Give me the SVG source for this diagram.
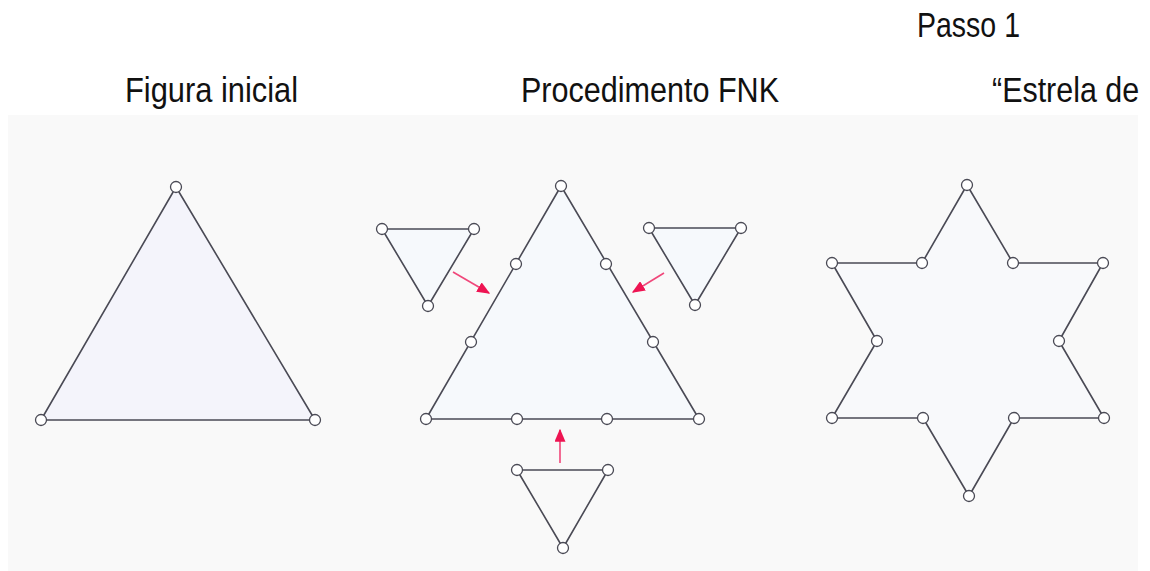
<svg xmlns="http://www.w3.org/2000/svg" width="1150" height="571" viewBox="0 0 1150 571">
<style>
.t{font-family:"Liberation Sans Narrow","Liberation Sans",Arial,sans-serif;font-size:35px;fill:#111}
.sh{stroke:#4a4a55;stroke-width:1.6;stroke-linejoin:round}
.v{fill:#fff;stroke:#4a4a55;stroke-width:1.3}
.ar{stroke:#f0477a;stroke-width:1.6;fill:none}
</style>
<defs>
<marker id="ah" viewBox="0 0 10 10" refX="9" refY="5" markerWidth="13" markerHeight="11" orient="auto" markerUnits="userSpaceOnUse" preserveAspectRatio="none">
<path d="M0,0 L10,5 L0,10 Z" fill="#ee1452"/>
</marker>
</defs>
<rect width="1150" height="571" fill="#fff"/>
<rect x="8" y="115" width="1130" height="456" fill="#f9f9f9"/>
<text class="t" x="917" y="37" textLength="103" lengthAdjust="spacingAndGlyphs">Passo 1</text>
<text class="t" x="125" y="102" textLength="173" lengthAdjust="spacingAndGlyphs">Figura inicial</text>
<text class="t" x="521" y="102" textLength="258" lengthAdjust="spacingAndGlyphs">Procedimento FNK</text>
<text class="t" transform="translate(992,102) scale(0.87,1)" x="0" y="0">“Estrela de</text>
<g id="initial">
<polygon class="sh" points="176,187 41,420 315,420" fill="#f4f4fb"/>
<circle class="v" cx="176" cy="187" r="5.5"/><circle class="v" cx="41" cy="420" r="5.5"/><circle class="v" cx="315" cy="420" r="5.5"/>
</g>
<g id="fnk-main">
<polygon class="sh" points="561,186 426,419 699,419" fill="#f6f9fc"/>
<circle class="v" cx="561" cy="186" r="5.5"/><circle class="v" cx="426" cy="419" r="5.5"/><circle class="v" cx="699" cy="419" r="5.5"/>
<circle class="v" cx="516" cy="264" r="5.5"/><circle class="v" cx="471" cy="342" r="5.5"/>
<circle class="v" cx="606" cy="264" r="5.5"/><circle class="v" cx="653" cy="342" r="5.5"/>
<circle class="v" cx="517" cy="419" r="5.5"/><circle class="v" cx="607" cy="419" r="5.5"/>
</g>
<g id="tri-left">
<polygon class="sh" points="382,229 474,229 428,306" fill="#f6f9fc"/>
<circle class="v" cx="382" cy="229" r="5.5"/><circle class="v" cx="474" cy="229" r="5.5"/><circle class="v" cx="428" cy="306" r="5.5"/>
</g>
<g id="tri-right">
<polygon class="sh" points="649,228 741,228 695,305" fill="#f6f9fc"/>
<circle class="v" cx="649" cy="228" r="5.5"/><circle class="v" cx="741" cy="228" r="5.5"/><circle class="v" cx="695" cy="305" r="5.5"/>
</g>
<g id="tri-bottom">
<polygon class="sh" points="517,470 608,470 563,548" fill="#f9f9f9"/>
<circle class="v" cx="517" cy="470" r="5.5"/><circle class="v" cx="608" cy="470" r="5.5"/><circle class="v" cx="563" cy="548" r="5.5"/>
</g>
<g id="star">
<polygon class="sh" points="967,185 1013,263 1103,263 1059,341 1104,418 1014,418 969,496 923,418 832,418 877,341 832,263 922,263" fill="#f8f9fb"/>
<circle class="v" cx="967" cy="185" r="5.5"/><circle class="v" cx="1013" cy="263" r="5.5"/><circle class="v" cx="1103" cy="263" r="5.5"/>
<circle class="v" cx="1059" cy="341" r="5.5"/><circle class="v" cx="1104" cy="418" r="5.5"/><circle class="v" cx="1014" cy="418" r="5.5"/>
<circle class="v" cx="969" cy="496" r="5.5"/><circle class="v" cx="923" cy="418" r="5.5"/><circle class="v" cx="832" cy="418" r="5.5"/>
<circle class="v" cx="877" cy="341" r="5.5"/><circle class="v" cx="832" cy="263" r="5.5"/><circle class="v" cx="922" cy="263" r="5.5"/>
</g>
<g id="connectors">
<line class="ar" x1="453" y1="272" x2="489" y2="293" marker-end="url(#ah)"/>
<line class="ar" x1="664" y1="273" x2="633" y2="292" marker-end="url(#ah)"/>
<line class="ar" x1="560" y1="463" x2="560" y2="430" marker-end="url(#ah)"/>
</g>
</svg>
